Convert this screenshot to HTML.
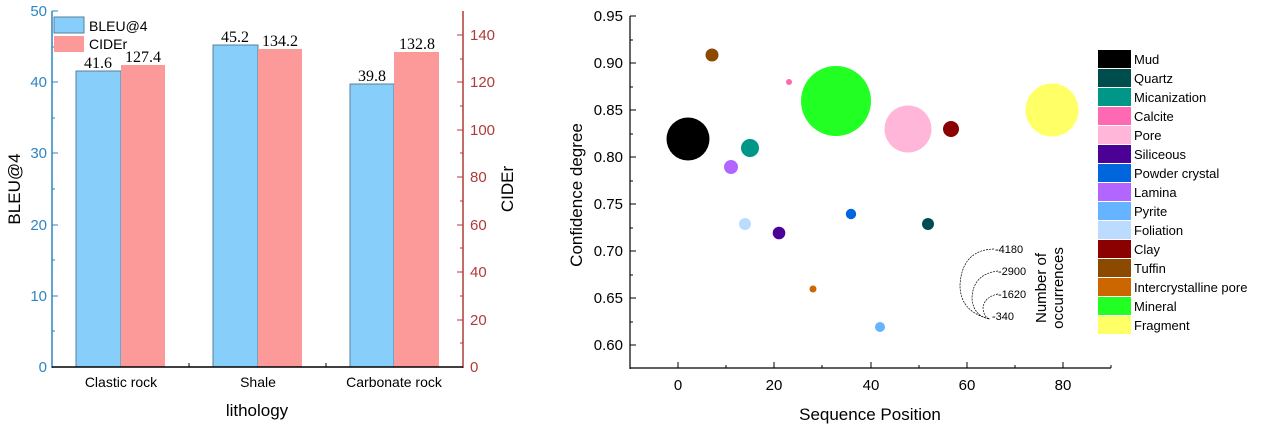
<!DOCTYPE html>
<html><head><style>
body{margin:0;background:#fff;}
svg text{font-family:"Liberation Sans",sans-serif;}
svg text.sf{font-family:"Liberation Serif",serif;}
</style></head><body>
<svg width="1269" height="427" xmlns="http://www.w3.org/2000/svg">
<!-- LEFT CHART -->
<g>
<rect x="76" y="71" width="45" height="296" fill="#87cefa" stroke="#5a7f99" stroke-width="1"/>
<rect x="121" y="65" width="44" height="302" fill="#fb9a99"/>
<rect x="213" y="45" width="45" height="322" fill="#87cefa" stroke="#5a7f99" stroke-width="1"/>
<rect x="258" y="49" width="44" height="318" fill="#fb9a99"/>
<rect x="350" y="84" width="44" height="283" fill="#87cefa" stroke="#5a7f99" stroke-width="1"/>
<rect x="394" y="52" width="45" height="315" fill="#fb9a99"/>
<g font-size="16" fill="#000" text-anchor="middle">
<text class="sf" x="98" y="68">41.6</text><text class="sf" x="143" y="62">127.4</text>
<text class="sf" x="235" y="42">45.2</text><text class="sf" x="280" y="46">134.2</text>
<text class="sf" x="372" y="81">39.8</text><text class="sf" x="417" y="49">132.8</text>
</g>
<line x1="52" y1="11" x2="52" y2="368" stroke="#2e86c1" stroke-width="1.5"/>
<line x1="463" y1="11" x2="463" y2="368" stroke="#b03a3a" stroke-width="1.5"/>
<line x1="52" y1="367" x2="463" y2="367" stroke="#000" stroke-width="1.5"/>
<g stroke="#2e86c1" stroke-width="1">
<line x1="52" y1="11" x2="58" y2="11"/><line x1="52" y1="82" x2="58" y2="82"/><line x1="52" y1="153" x2="58" y2="153"/><line x1="52" y1="225" x2="58" y2="225"/><line x1="52" y1="296" x2="58" y2="296"/>
<line x1="52" y1="47" x2="55" y2="47"/><line x1="52" y1="118" x2="55" y2="118"/><line x1="52" y1="189" x2="55" y2="189"/><line x1="52" y1="260" x2="55" y2="260"/><line x1="52" y1="331" x2="55" y2="331"/>
</g>
<g fill="#2e86c1" font-size="15" text-anchor="end">
<text x="47" y="16">50</text><text x="47" y="87">40</text><text x="47" y="158">30</text><text x="47" y="230">20</text><text x="47" y="301">10</text><text x="47" y="372">0</text>
</g>
<g stroke="#b03a3a" stroke-width="1">
<line x1="457" y1="35" x2="463" y2="35"/><line x1="457" y1="82" x2="463" y2="82"/><line x1="457" y1="130" x2="463" y2="130"/><line x1="457" y1="177" x2="463" y2="177"/><line x1="457" y1="225" x2="463" y2="225"/><line x1="457" y1="272" x2="463" y2="272"/><line x1="457" y1="320" x2="463" y2="320"/>
<line x1="460" y1="59" x2="463" y2="59"/><line x1="460" y1="106" x2="463" y2="106"/><line x1="460" y1="153" x2="463" y2="153"/><line x1="460" y1="201" x2="463" y2="201"/><line x1="460" y1="248" x2="463" y2="248"/><line x1="460" y1="296" x2="463" y2="296"/><line x1="460" y1="343" x2="463" y2="343"/>
</g>
<g fill="#b03a3a" font-size="15">
<text x="470" y="40">140</text><text x="470" y="87">120</text><text x="470" y="135">100</text><text x="470" y="182">80</text><text x="470" y="230">60</text><text x="470" y="277">40</text><text x="470" y="325">20</text><text x="470" y="372">0</text>
</g>
<g stroke="#000"><line x1="189" y1="367" x2="189" y2="363"/><line x1="326" y1="367" x2="326" y2="363"/></g>
<g font-size="14" text-anchor="middle" fill="#000">
<text x="121" y="387">Clastic rock</text><text x="258" y="387">Shale</text><text x="394" y="387">Carbonate rock</text>
</g>
<text x="257" y="416" font-size="17" text-anchor="middle">lithology</text>
<text transform="translate(20,189) rotate(-90)" font-size="17" text-anchor="middle">BLEU@4</text>
<text transform="translate(513,189) rotate(-90)" font-size="17" text-anchor="middle">CIDEr</text>
<rect x="54" y="17" width="30" height="16" fill="#87cefa" stroke="#5a7f99"/>
<rect x="54" y="36" width="30" height="16" fill="#fb9a99"/>
<text x="89" y="31" font-size="14">BLEU@4</text>
<text x="89" y="49" font-size="14">CIDEr</text>
</g>
<!-- RIGHT CHART -->
<g>
<line x1="630" y1="16" x2="630" y2="369" stroke="#000" stroke-width="1.2"/>
<line x1="630" y1="368" x2="1111" y2="368" stroke="#000" stroke-width="1.2"/>
<g stroke="#000">
<line x1="630" y1="16" x2="636" y2="16"/><line x1="630" y1="63" x2="636" y2="63"/><line x1="630" y1="110" x2="636" y2="110"/><line x1="630" y1="157" x2="636" y2="157"/><line x1="630" y1="204" x2="636" y2="204"/><line x1="630" y1="251" x2="636" y2="251"/><line x1="630" y1="298" x2="636" y2="298"/><line x1="630" y1="345" x2="636" y2="345"/>
<line x1="630" y1="40" x2="633" y2="40"/><line x1="630" y1="87" x2="633" y2="87"/><line x1="630" y1="134" x2="633" y2="134"/><line x1="630" y1="181" x2="633" y2="181"/><line x1="630" y1="228" x2="633" y2="228"/><line x1="630" y1="275" x2="633" y2="275"/><line x1="630" y1="322" x2="633" y2="322"/>
<line x1="678" y1="368" x2="678" y2="362"/><line x1="774" y1="368" x2="774" y2="362"/><line x1="871" y1="368" x2="871" y2="362"/><line x1="967" y1="368" x2="967" y2="362"/><line x1="1063" y1="368" x2="1063" y2="362"/>
<line x1="726" y1="368" x2="726" y2="365"/><line x1="822" y1="368" x2="822" y2="365"/><line x1="919" y1="368" x2="919" y2="365"/><line x1="1015" y1="368" x2="1015" y2="365"/><line x1="1111" y1="368" x2="1111" y2="365"/>
</g>
<g font-size="15" text-anchor="end">
<text x="623" y="21">0.95</text><text x="623" y="68">0.90</text><text x="623" y="115">0.85</text><text x="623" y="162">0.80</text><text x="623" y="209">0.75</text><text x="623" y="256">0.70</text><text x="623" y="303">0.65</text><text x="623" y="350">0.60</text>
</g>
<g font-size="15" text-anchor="middle">
<text x="678" y="390">0</text><text x="774" y="390">20</text><text x="871" y="390">40</text><text x="967" y="390">60</text><text x="1063" y="390">80</text>
</g>
<text x="870" y="420" font-size="17" text-anchor="middle">Sequence Position</text>
<text transform="translate(582,195) rotate(-90)" font-size="17" text-anchor="middle">Confidence degree</text>
<!-- bubbles -->
<circle cx="688" cy="139" r="21.5" fill="#000"/>
<circle cx="836" cy="101" r="35" fill="#22ff22"/>
<circle cx="908" cy="129" r="23.5" fill="#ffb6d9"/>
<circle cx="1052" cy="110" r="26.5" fill="#ffff66"/>
<circle cx="951" cy="129" r="8" fill="#8b0000"/>
<circle cx="750" cy="148" r="9" fill="#009688"/>
<circle cx="712" cy="55" r="6.5" fill="#8b4a00"/>
<circle cx="789" cy="82" r="3" fill="#ff69b4"/>
<circle cx="731" cy="167" r="7" fill="#b266ff"/>
<circle cx="745" cy="224" r="6" fill="#bbdcff"/>
<circle cx="779" cy="233" r="6.3" fill="#4b0096"/>
<circle cx="851" cy="214" r="5.2" fill="#0066dd"/>
<circle cx="928" cy="224" r="6" fill="#004d4d"/>
<circle cx="813" cy="289" r="3.5" fill="#cc6600"/>
<circle cx="880" cy="327" r="5" fill="#66b3ff"/>
<!-- size legend -->
<g fill="none" stroke="#000" stroke-width="0.7" stroke-dasharray="2,1">
<path d="M994 249 Q962 250 960 285 Q960 312 990 319"/>
<path d="M998 271 Q973 274 972 298 Q973 316 990 319"/>
<path d="M998 294 Q984 297 983 308 Q984 318 990 319"/>
</g>
<g font-size="11">
<text x="995" y="253">-4180</text><text x="998" y="275">-2900</text><text x="998" y="298">-1620</text><text x="992" y="320">-340</text>
</g>
<text transform="translate(1046,288) rotate(-90)" font-size="15" text-anchor="middle">Number of</text>
<text transform="translate(1063,288) rotate(-90)" font-size="15" text-anchor="middle">occurrences</text>
<!-- legend -->
<g>
<rect x="1098" y="50" width="33" height="18" fill="#000"/>
<rect x="1098" y="69" width="33" height="18" fill="#004d4d"/>
<rect x="1098" y="88" width="33" height="18" fill="#009688"/>
<rect x="1098" y="107" width="33" height="18" fill="#ff69b4"/>
<rect x="1098" y="126" width="33" height="18" fill="#ffb6d9"/>
<rect x="1098" y="145" width="33" height="18" fill="#4b0096"/>
<rect x="1098" y="164" width="33" height="18" fill="#0066dd"/>
<rect x="1098" y="183" width="33" height="18" fill="#b266ff"/>
<rect x="1098" y="202" width="33" height="18" fill="#66b3ff"/>
<rect x="1098" y="221" width="33" height="18" fill="#bbdcff"/>
<rect x="1098" y="240" width="33" height="18" fill="#8b0000"/>
<rect x="1098" y="259" width="33" height="18" fill="#8b4a00"/>
<rect x="1098" y="278" width="33" height="18" fill="#cc6600"/>
<rect x="1098" y="297" width="33" height="18" fill="#22ff22"/>
<rect x="1098" y="316" width="33" height="18" fill="#ffff66"/>
</g>
<g font-size="13">
<text x="1134" y="64">Mud</text><text x="1134" y="83">Quartz</text><text x="1134" y="102">Micanization</text><text x="1134" y="121">Calcite</text><text x="1134" y="140">Pore</text><text x="1134" y="159">Siliceous</text><text x="1134" y="178">Powder crystal</text><text x="1134" y="197">Lamina</text><text x="1134" y="216">Pyrite</text><text x="1134" y="235">Foliation</text><text x="1134" y="254">Clay</text><text x="1134" y="273">Tuffin</text><text x="1134" y="292">Intercrystalline pore</text><text x="1134" y="311">Mineral</text><text x="1134" y="330">Fragment</text>
</g>
</g>
</svg>
</body></html>
